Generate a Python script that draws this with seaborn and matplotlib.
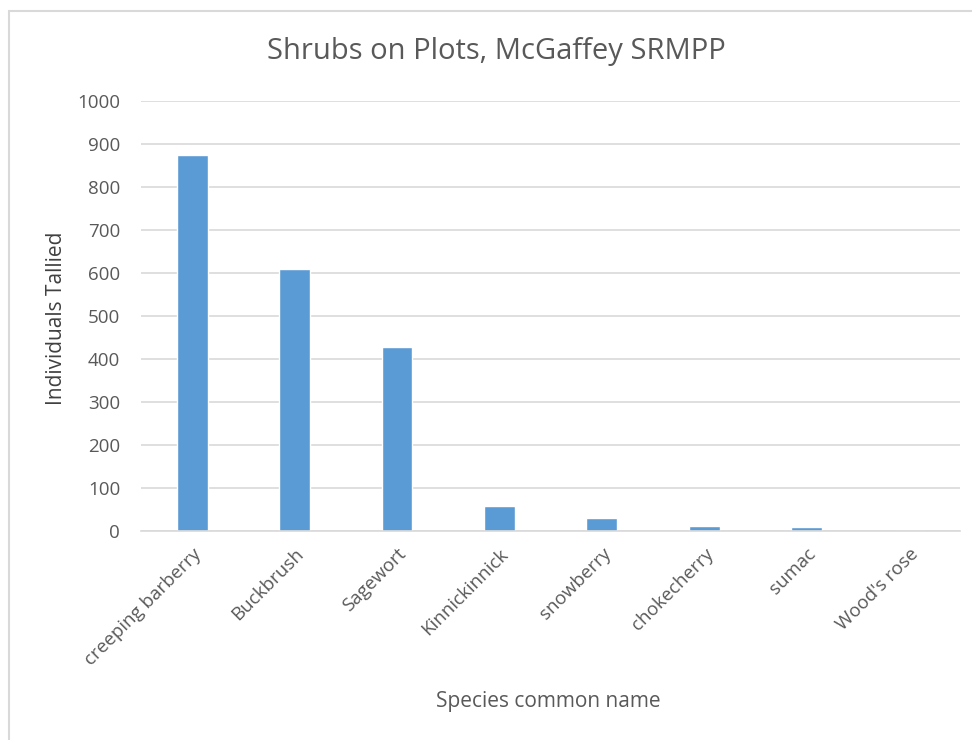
import matplotlib
matplotlib.use('Agg')
import matplotlib.pyplot as plt
import seaborn as sns
from matplotlib.patches import Rectangle

species = ['creeping barberry', 'Buckbrush', 'Sagewort', 'Kinnickinnick',
           'snowberry', 'chokecherry', 'sumac', "Wood's rose"]
tallied = [875, 609, 428, 58, 31, 12, 9, 0]
y_ticks = [0, 100, 200, 300, 400, 500, 600, 700, 800, 900, 1000]

sns.set_style('white')
plt.rcParams['font.family'] = ['Open Sans', 'DejaVu Sans']
text_color = '#595959'

fig = plt.figure(figsize=(9.72, 7.40), dpi=100)
ax = fig.add_axes([0.145, 0.2824, 0.843, 0.5811])

sns.barplot(x=species, y=tallied, color='#5B9BD5', width=0.3, saturation=1, ax=ax)

ax.set_ylim(0, 1000)
ax.set_yticks(y_ticks)
ax.set_xlim(-0.5, len(species) - 0.5)
ax.grid(axis='y', color='#D9D9D9', linewidth=1.2)
ax.set_axisbelow(True)
for s in ['top', 'right', 'left']:
    ax.spines[s].set_visible(False)
ax.spines['bottom'].set_color('#D9D9D9')
ax.spines['bottom'].set_linewidth(1.2)
ax.tick_params(axis='y', length=0, labelsize=13.5, colors=text_color, pad=15)
ax.tick_params(axis='x', length=0, labelsize=13.5, colors=text_color, pad=10)
plt.setp(ax.get_xticklabels(), rotation=45, ha='right', rotation_mode='anchor')

fig.text(496 / 972, 1 - 52 / 740, 'Shrubs on Plots, McGaffey SRMPP', fontsize=21,
         color=text_color, ha='center', va='center')
ax.set_ylabel('')
fig.text(57 / 972, 1 - 318 / 740, 'Individuals Tallied', fontsize=15, rotation=90,
         color='#404040', ha='center', va='center')
ax.set_xlabel('')
fig.text(548 / 972, 1 - 701 / 740, 'Species common name', fontsize=15,
         color=text_color, ha='center', va='center')

# light frame around the chart (only top and left edges are visible)
fig.patches.append(Rectangle((9 / 972, -0.05), 1.0, 1.05 - 11 / 740, transform=fig.transFigure,
                             fill=False, edgecolor='#D9D9D9', linewidth=1.5))

fig.savefig('out.png', dpi=100)
